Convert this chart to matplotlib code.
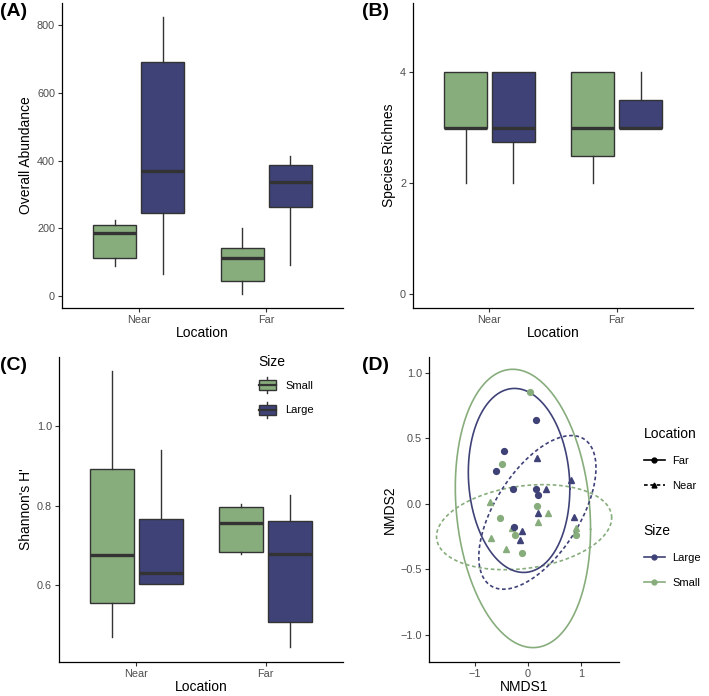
import numpy as np
import matplotlib
matplotlib.use('Agg')
import matplotlib.pyplot as plt
from matplotlib.lines import Line2D
from matplotlib.patches import Rectangle
from matplotlib.legend_handler import HandlerBase

plt.rcParams['font.family'] = ['Liberation Sans', 'DejaVu Sans']

GREEN = '#88ad7d'
BLUE = '#3f4277'
EDGE = '#333333'
TICKCOL = '#4d4d4d'

locations = ['Near', 'Far']
sizes = ['Small', 'Large']

# five-number summaries [low whisker, q1, median, q3, high whisker], Near then Far
abund_small = [[89, 114, 187, 209, 225], [6, 45, 112, 142, 202]]
abund_large = [[66, 245, 371, 691, 826], [92, 264, 338, 387, 413]]
rich_small = [[2, 3, 3, 4, 4], [2, 2.5, 3, 4, 4]]
rich_large = [[2, 2.75, 3, 4, 4], [3, 3, 3, 3.5, 4]]
shan_small = [[0.468, 0.554, 0.675, 0.893, 1.140], [0.678, 0.683, 0.755, 0.797, 0.804]]
shan_large = [[0.602, 0.602, 0.630, 0.765, 0.940], [0.443, 0.505, 0.677, 0.760, 0.826]]

# NMDS scores
far_small_x = [0.03, -0.50, 0.18, -0.52, -0.24, -0.11, 0.90]
far_small_y = [0.85, 0.30, -0.02, -0.11, -0.24, -0.38, -0.24]
near_small_x = [-0.72, -0.70, -0.42, -0.30, 0.19, 0.37, 0.90]
near_small_y = [0.01, -0.26, -0.35, -0.19, -0.14, -0.07, -0.19]
far_large_x = [0.145, -0.45, -0.60, -0.29, 0.16, 0.19, -0.26]
far_large_y = [0.64, 0.40, 0.25, 0.11, 0.11, 0.066, -0.18]
near_large_x = [0.18, 0.34, 0.82, 0.19, 0.87, -0.12, -0.15]
near_large_y = [0.35, 0.11, 0.18, -0.07, -0.10, -0.21, -0.28]

# 95% ellipses (Far/Small, Near/Small, Far/Large, Near/Large):
# centre, half extent along x and y, correlation
ell_cx = [-0.095, -0.073, -0.168, 0.178]
ell_cy = [-0.037, -0.180, 0.177, -0.067]
ell_hx = [1.278, 1.655, 0.959, 1.107]
ell_hy = [1.063, 0.325, 0.703, 0.587]
ell_r = [-0.15, 0.22, -0.09, 0.58]


def ellipse_path(i, n=201):
    hx, hy, r = ell_hx[i], ell_hy[i], ell_r[i]
    shape = np.array([[hx * hx, r * hx * hy], [r * hx * hy, hy * hy]])
    L = np.linalg.cholesky(shape)
    a = np.linspace(0, 2 * np.pi, n)
    circ = np.column_stack([np.cos(a), np.sin(a)])
    e = np.array([ell_cx[i], ell_cy[i]]) + circ @ L.T
    return e[:, 0], e[:, 1]


def style_axes(ax):
    for s in ['top', 'right']:
        ax.spines[s].set_visible(False)
    for s in ['left', 'bottom']:
        ax.spines[s].set_color('black')
        ax.spines[s].set_linewidth(0.9)
    ax.tick_params(colors=EDGE, labelcolor=TICKCOL, labelsize=7.8, length=3, width=0.8, pad=2)


def box_panel(ax, small, large, ylim, yticks, ylabel):
    for stats_list, color, off in [(small, GREEN, -0.1875), (large, BLUE, 0.1875)]:
        stats = []
        for st in stats_list:
            stats.append(dict(whislo=st[0], q1=st[1], med=st[2], q3=st[3], whishi=st[4]))
        ax.bxp(stats, positions=[1 + off, 2 + off], widths=0.34, patch_artist=True,
               showcaps=False, showfliers=False,
               boxprops=dict(facecolor=color, edgecolor=EDGE, linewidth=1.0),
               whiskerprops=dict(color=EDGE, linewidth=1.0),
               medianprops=dict(color=EDGE, linewidth=2.4, solid_capstyle='butt'))
    ax.set_xlim(0.4, 2.6)
    ax.set_xticks([1, 2])
    ax.set_xticklabels(locations)
    ax.set_ylim(ylim)
    ax.set_yticks(yticks)
    ax.set_xlabel('Location', fontsize=10, labelpad=1)
    ax.set_ylabel(ylabel, fontsize=10, labelpad=3)
    style_axes(ax)


class BoxKey(HandlerBase):
    def create_artists(self, legend, orig_handle, xdescent, ydescent, width, height, fontsize, trans):
        color = orig_handle.get_facecolor()
        pad = height * 0.2
        rect = Rectangle((xdescent, -ydescent + pad), width, height - 2 * pad,
                         facecolor=color, edgecolor=EDGE, lw=1.0, transform=trans)
        mid = -ydescent + height / 2
        med = Line2D([xdescent, xdescent + width], [mid, mid], color=EDGE, lw=1.6, transform=trans)
        cx = xdescent + width / 2
        w1 = Line2D([cx, cx], [-ydescent, -ydescent + pad], color=EDGE, lw=1.0, transform=trans)
        w2 = Line2D([cx, cx], [-ydescent + height - pad, -ydescent + height], color=EDGE, lw=1.0, transform=trans)
        return [w1, w2, rect, med]


W, H = 709, 696
fig = plt.figure(figsize=(W / 100, H / 100), dpi=100)


def add_ax(l, t, r, b):
    return fig.add_axes([l / W, 1 - b / H, (r - l) / W, (b - t) / H])


axA = add_ax(62, 3, 343, 308)
axB = add_ax(413, 3, 693, 308)
axC = add_ax(59, 357, 343, 662)
axD = add_ax(429, 357, 619, 662)

box_panel(axA, abund_small, abund_large, (-35, 866), [0, 200, 400, 600, 800], 'Overall Abundance')
box_panel(axB, rich_small, rich_large, (-0.25, 5.25), [0, 2, 4], 'Species Richnes')
box_panel(axC, shan_small, shan_large, (0.405, 1.175), [0.6, 0.8, 1.0], "Shannon's H'")
axC.set_yticklabels(['0.6', '0.8', '1.0'])

h_small = Rectangle((0, 0), 1, 1, facecolor=GREEN)
h_large = Rectangle((0, 0), 1, 1, facecolor=BLUE)
axC.legend([h_small, h_large], sizes, title='Size', frameon=False,
           handler_map={Rectangle: BoxKey()}, fontsize=8, title_fontsize=10,
           loc='upper left', bbox_to_anchor=(253 / W, 1 - 349 / H),
           bbox_transform=fig.transFigure, borderpad=0, handlelength=1.6,
           handleheight=1.9, labelspacing=0.75, handletextpad=0.8, alignment='left')

# panel D
groups = [
    (far_small_x, far_small_y, GREEN, 'o', '-'),
    (near_small_x, near_small_y, GREEN, '^', (0, (2.2, 1.6))),
    (far_large_x, far_large_y, BLUE, 'o', '-'),
    (near_large_x, near_large_y, BLUE, '^', (0, (2.2, 1.6))),
]
for i, (gx, gy, col, mk, ls) in enumerate(groups):
    ex, ey = ellipse_path(i)
    axD.plot(ex, ey, color=col, lw=1.2, linestyle=ls)
for gx, gy, col, mk, ls in groups:
    axD.plot(gx, gy, linestyle='none', marker=mk, color=col, markersize=4.2)

axD.set_xlim(-1.87, 1.72)
axD.set_ylim(-1.21, 1.12)
axD.set_xticks([-1, 0, 1])
axD.set_xticklabels(['\u22121', '0', '1'])
axD.set_yticks([-1.0, -0.5, 0.0, 0.5, 1.0])
axD.set_yticklabels(['\u22121.0', '\u22120.5', '0.0', '0.5', '1.0'])
axD.set_xlabel('NMDS1', fontsize=10, labelpad=1)
axD.set_ylabel('NMDS2', fontsize=10, labelpad=3)
style_axes(axD)

loc_handles = [Line2D([], [], color='black', lw=1.2, marker='o', markersize=3.5),
               Line2D([], [], color='black', lw=1.2, marker='^', markersize=3.5, linestyle=(0, (2.2, 1.6)))]
legL = axD.legend(loc_handles, ['Far', 'Near'], title='Location', frameon=False, fontsize=8,
                  title_fontsize=10, loc='upper left', bbox_to_anchor=(638 / W, 1 - 421 / H),
                  bbox_transform=fig.transFigure, borderpad=0, handlelength=1.9,
                  labelspacing=1.35, handletextpad=0.7, alignment='left')
axD.add_artist(legL)
size_handles = [Line2D([], [], color=BLUE, lw=1.2, marker='o', markersize=3.5),
                Line2D([], [], color=GREEN, lw=1.2, marker='o', markersize=3.5)]
axD.legend(size_handles, ['Large', 'Small'], title='Size', frameon=False, fontsize=8,
           title_fontsize=10, loc='upper left', bbox_to_anchor=(638 / W, 1 - 518 / H),
           bbox_transform=fig.transFigure, borderpad=0, handlelength=1.9,
           labelspacing=1.35, handletextpad=0.7, alignment='left')

for lab, x, y in [('(A)', 0, 12), ('(B)', 362, 12), ('(C)', 0, 366), ('(D)', 362, 366)]:
    fig.text(x / W, 1 - y / H, lab, fontsize=14, fontweight='bold', va='center', ha='left')

fig.savefig('out.png', dpi=100)
